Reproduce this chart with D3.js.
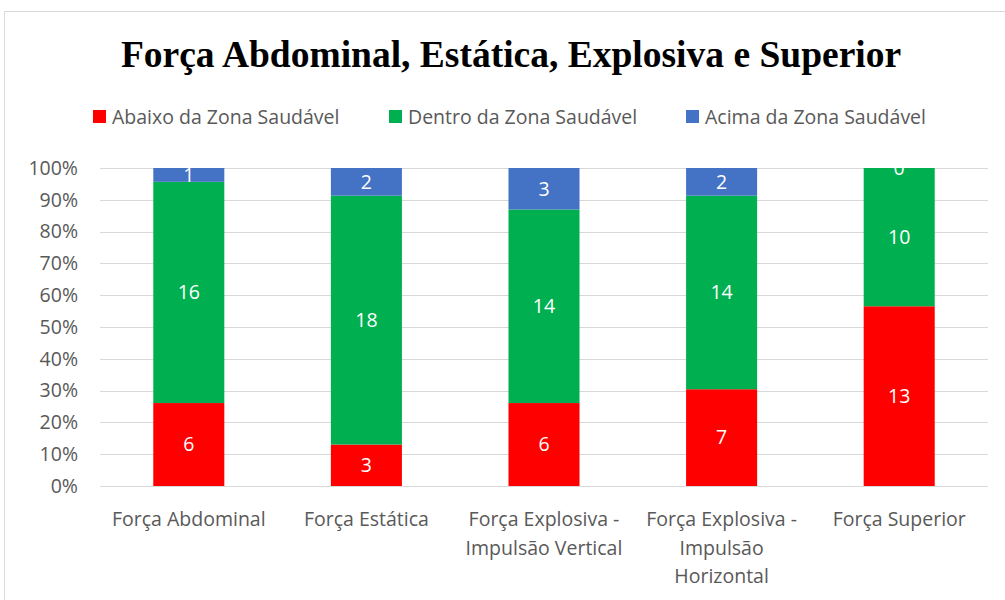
<!DOCTYPE html>
<html>
<head>
<meta charset="utf-8">
<script src="https://cdn.jsdelivr.net/npm/d3@7"></script>
<style>
  body { margin: 0; background: #fff; }
  svg { display: block; }
</style>
</head>
<body>
<div id="chart"></div>
<script>
var categories = [
  'Força Abdominal',
  'Força Estática',
  'Força Explosiva - Impulsão Vertical',
  'Força Explosiva - Impulsão Horizontal',
  'Força Superior'
];
var seriesNames = ['Abaixo da Zona Saudável', 'Dentro da Zona Saudável', 'Acima da Zona Saudável'];
var abaixo = [6, 3, 6, 7, 13];
var dentro = [16, 18, 14, 14, 10];
var acima = [1, 2, 3, 2, 0];
var tickLabels = ['0%', '10%', '20%', '30%', '40%', '50%', '60%', '70%', '80%', '90%', '100%'];
var colors = ['#ff0000', '#00b050', '#4472c4'];

var W = 1005, H = 600;
var margin = { top: 168, right: 17, bottom: 114, left: 100 };
var width = W - margin.left - margin.right;
var height = H - margin.top - margin.bottom;
var font = '"Open Sans", sans-serif';
var fs = '19.5px ';

var svg = d3.select('#chart').append('svg')
  .attr('width', W)
  .attr('height', H);

// chart border
svg.append('rect')
  .attr('x', 4.5).attr('y', 11.5)
  .attr('width', 1010).attr('height', 600)
  .attr('fill', 'none')
  .attr('stroke', '#d9d9d9');

// title
svg.append('text')
  .attr('x', 511).attr('y', 67)
  .attr('text-anchor', 'middle')
  .style('font', 'bold 37.5px "Liberation Serif", "Times New Roman", serif')
  .attr('fill', '#000')
  .text('Força Abdominal, Estática, Explosiva e Superior');

// build table of rows
var rows = categories.map(function(c, i) {
  return { cat: c, s0: abaixo[i], s1: dentro[i], s2: acima[i] };
});
var keys = ['s0', 's1', 's2'];
var stack = d3.stack().keys(keys).offset(d3.stackOffsetExpand);
var series = stack(rows);

var x = d3.scaleBand().domain(categories).range([0, width]).paddingInner(0.6).paddingOuter(0.3);
var y = d3.scaleLinear().domain([0, 1]).range([height, 0]);

var g = svg.append('g').attr('transform', 'translate(' + margin.left + ',' + margin.top + ')');

// gridlines
g.selectAll('.grid')
  .data(d3.range(0, 1.0001, 0.1))
  .enter().append('line')
  .attr('x1', 0).attr('x2', width)
  .attr('y1', d => Math.round(y(d)) + 0.5)
  .attr('y2', d => Math.round(y(d)) + 0.5)
  .attr('stroke', '#d9d9d9')
  .attr('stroke-width', 1);

// y axis labels
g.selectAll('.ytick')
  .data(tickLabels)
  .enter().append('text')
  .attr('x', -22)
  .attr('y', (d, i) => y(i / 10))
  .attr('dy', '0.35em')
  .attr('text-anchor', 'end')
  .attr('fill', '#595959')
  .style('font', fs + font)
  .text(d => d);

// bars
var layer = g.selectAll('.layer')
  .data(series)
  .enter().append('g')
  .attr('fill', (d, i) => colors[i]);

layer.selectAll('rect')
  .data(d => d)
  .enter().append('rect')
  .attr('x', d => x(d.data.cat))
  .attr('y', d => y(d[1]))
  .attr('width', x.bandwidth())
  .attr('height', d => y(d[0]) - y(d[1]));

// value labels clipped to the plot
svg.append('clipPath').attr('id', 'plotclip')
  .append('rect').attr('x', 0).attr('y', 0).attr('width', width).attr('height', height + 5);

var labels = g.append('g').attr('clip-path', 'url(#plotclip)');
series.forEach(function(s, si) {
  labels.selectAll('.lbl' + si)
    .data(s)
    .enter().append('text')
    .attr('x', d => x(d.data.cat) + x.bandwidth() / 2)
    .attr('y', d => (y(d[0]) + y(d[1])) / 2)
    .attr('dy', '0.35em')
    .attr('text-anchor', 'middle')
    .attr('fill', '#fff')
    .style('font', fs + font)
    .text(d => d.data[s.key]);
});

// x axis category labels, wrapped
function wrapLines(text, maxW, measure) {
  var words = text.split(' ');
  var lines = [];
  var cur = '';
  words.forEach(function(w) {
    var t = cur ? cur + ' ' + w : w;
    if (cur && measure(t) > maxW) {
      lines.push(cur);
      cur = w;
    } else {
      cur = t;
    }
  });
  if (cur) lines.push(cur);
  return lines;
}

var probe = svg.append('text').style('font', fs + font).attr('opacity', 0);
function measure(t) {
  probe.text(t);
  return probe.node().getComputedTextLength();
}

categories.forEach(function(c) {
  var lines = wrapLines(c, 175, measure);
  var t = g.append('text')
    .attr('x', x(c) + x.bandwidth() / 2)
    .attr('y', height + 40)
    .attr('text-anchor', 'middle')
    .attr('fill', '#595959')
    .style('font', fs + font);
  lines.forEach(function(l, i) {
    t.append('tspan')
      .attr('x', x(c) + x.bandwidth() / 2)
      .attr('dy', i === 0 ? 0 : 28.5)
      .text(l);
  });
});
probe.remove();

// legend
var legendX = [93, 389, 686];
var legend = svg.append('g');
seriesNames.forEach(function(name, i) {
  legend.append('rect')
    .attr('x', legendX[i]).attr('y', 110)
    .attr('width', 13).attr('height', 13)
    .attr('fill', colors[i]);
  legend.append('text')
    .attr('x', legendX[i] + 19).attr('y', 117)
    .attr('dy', '0.35em')
    .attr('fill', '#595959')
    .style('font', fs + font)
    .text(name);
});
</script>
</body>
</html>
